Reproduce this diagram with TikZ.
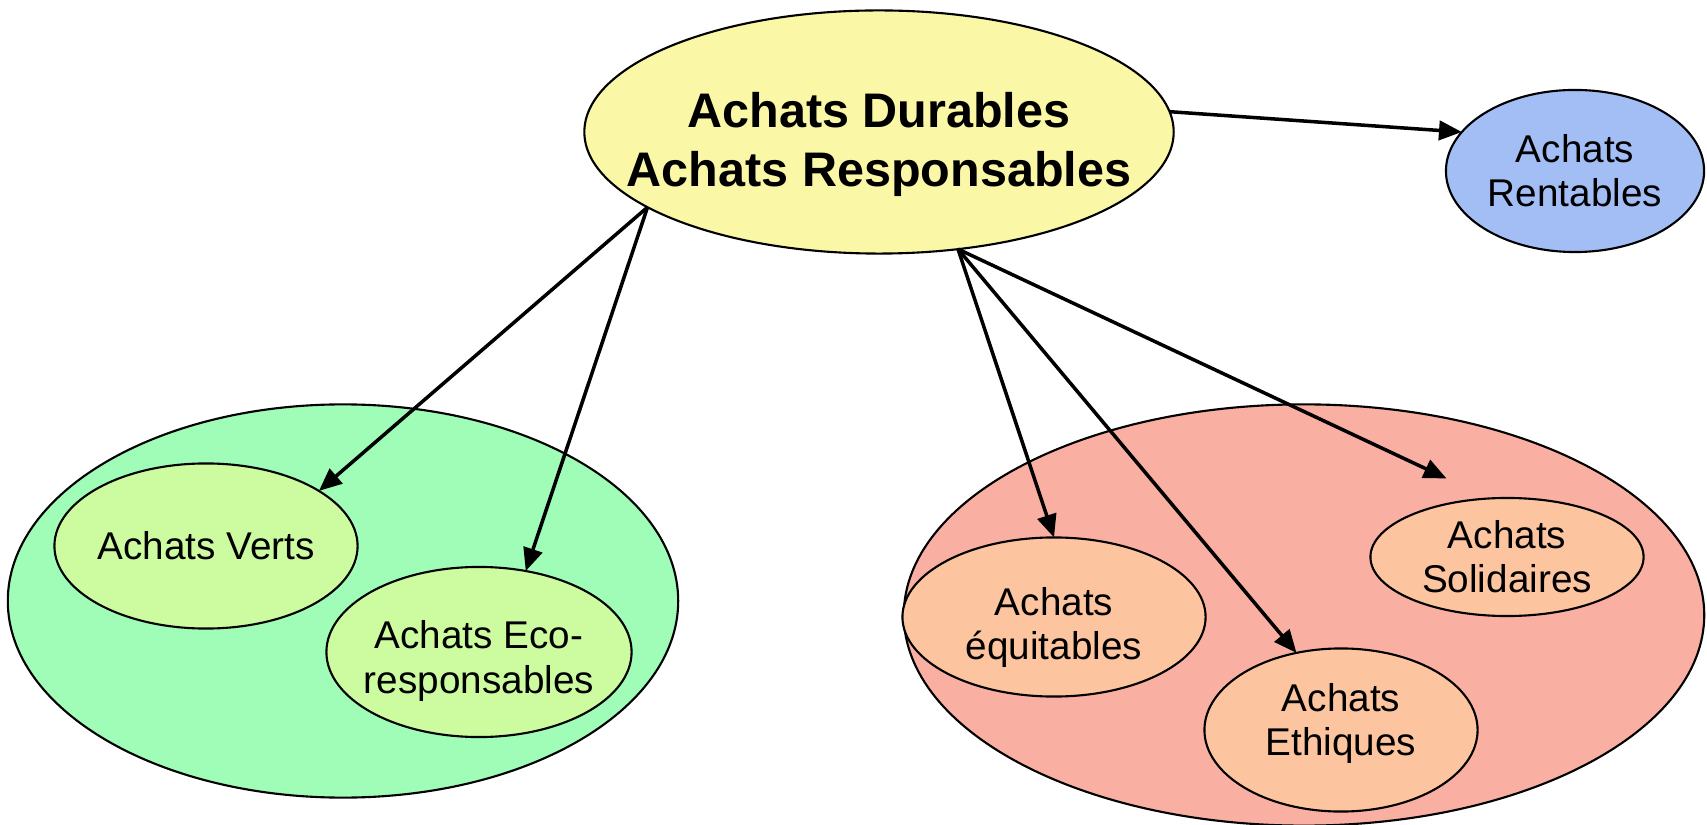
\documentclass[tikz,border=0pt]{standalone}
\usepackage{fontspec}
\setmainfont{Liberation Sans}
\usetikzlibrary{positioning}
\usetikzlibrary{shapes}
\usetikzlibrary{arrows.meta}
\usepackage{xcolor}

\definecolor{jaune}{HTML}{FAF8A6}
\definecolor{bleu}{HTML}{A3BEF5}
\definecolor{menthe}{HTML}{A0FDB8}
\definecolor{vertclair}{HTML}{CCFC9F}
\definecolor{saumon}{HTML}{F9B0A2}
\definecolor{peche}{HTML}{FCC59F}

\begin{document}
\begin{tikzpicture}[x=0.01cm, y=-0.01cm,
        el/.style={ellipse, draw, line width=0.6pt, inner sep=-6pt, outer sep=0pt, align=center, font=\fontsize{11}{12.6}\selectfont},
        arr/.style={-{Triangle[length=6.5pt,width=5.5pt]}, line width=1pt}]
        \useasboundingbox (0,0) rectangle (1707,825);

        % groupes
        \node[el, fill=menthe, minimum width=6.70cm, minimum height=3.93cm] (vert) at (343,601) {};
        \node[el, fill=saumon, minimum width=8.00cm, minimum height=4.21cm] (social) at (1304,615) {};

        \node[el, fill=jaune, inner xsep=-0.6cm, minimum width=5.89cm, minimum height=2.43cm, font=\fontsize{13.8}{16.8}\selectfont\bfseries] (main) at (879,132) {\rule{0pt}{17pt}Achats Durables\\Achats Responsables};
        \node[el, fill=bleu, minimum width=2.58cm, minimum height=1.62cm] (rentables) at (1575,171) {Achats\\Rentables};

        \node[el, fill=vertclair, minimum width=3.03cm, minimum height=1.65cm] (verts) at (206,546) {Achats Verts};
        \node[el, fill=vertclair, minimum width=3.05cm, minimum height=1.70cm] (eco) at (479,652) {\rule{0pt}{13pt}Achats Eco-\\responsables};

        \node[el, fill=peche, minimum width=3.03cm, minimum height=1.59cm] (equit) at (1054,617) {\rule{0pt}{14pt}Achats\\équitables};
        \node[el, fill=peche, minimum width=2.73cm, minimum height=1.63cm] (ethiq) at (1341,730) {Achats\\Ethiques\rule[-6pt]{0pt}{0pt}};
        \node[el, fill=peche, minimum width=2.73cm, minimum height=1.18cm] (solid) at (1507,557) {Achats\\Solidaires};

        \draw[arr] (main.4) -- (rentables.161);
        \draw[arr] (main.198) -- (verts.26);
        \draw[arr] (main.198) -- (eco.60);
        \draw[arr] (main.304) -- (equit.north);
        \draw[arr] (main.304) -- (ethiq.120);
        \draw[arr, shorten >=0.47cm] (main.304) -- (solid.107);
    \end{tikzpicture}
\end{document}
